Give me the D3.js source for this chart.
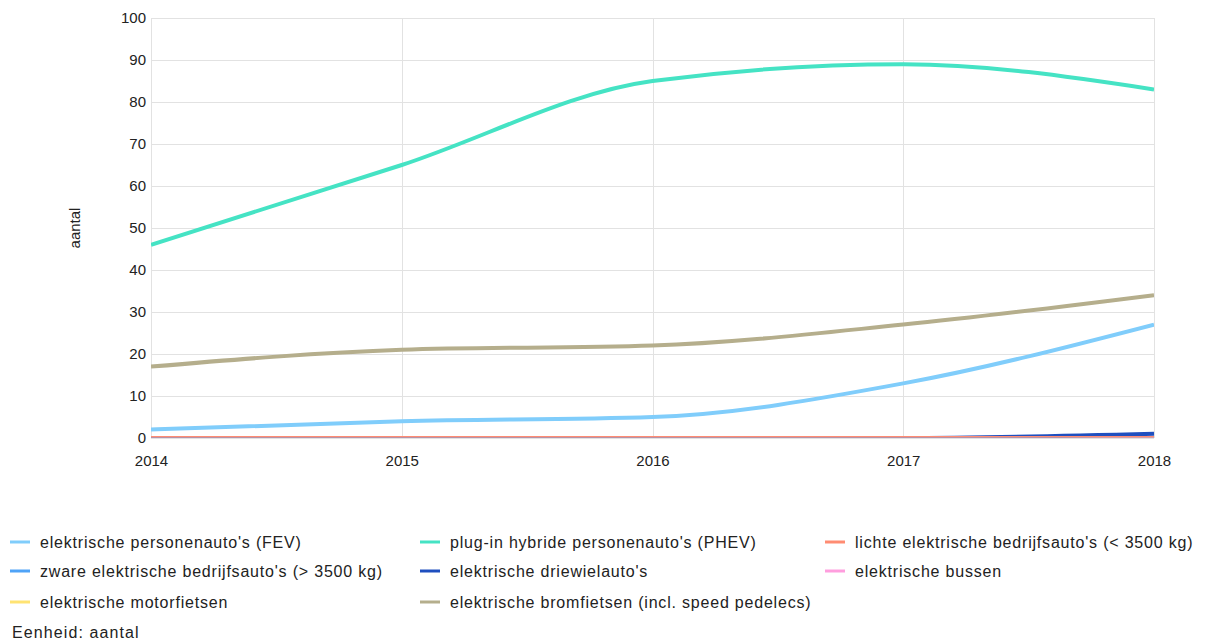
<!DOCTYPE html>
<html>
<head>
<meta charset="utf-8">
<script src="https://cdn.jsdelivr.net/npm/d3@7"></script>
<style>
  body { margin: 0; background: #fff; }
  svg { font-family: "Liberation Sans", Arial, sans-serif; }
</style>
</head>
<body>
<svg id="chart" width="1205" height="641"></svg>
<script>
var width = 1205;
var height = 641;

// jaren en waarden
var years = [2014, 2015, 2016, 2017, 2018];
var fev = [2, 4, 5, 13, 27];
var phev = [46, 65, 85, 89, 83];
var lichte = [0, 0, 0, 0, 0];
var zware = [0, 0, 0, 0, 0];
var driewiel = [0, 0, 0, 0, 1];
var bussen = [0, 0, 0, 0, 0];
var motorfietsen = [0, 0, 0, 0, 0];
var bromfietsen = [17, 21, 22, 27, 34];
var yTicks = [0, 10, 20, 30, 40, 50, 60, 70, 80, 90, 100];

var seriesNames = [
    "elektrische personenauto's (FEV)",
    "plug-in hybride personenauto's (PHEV)",
    "lichte elektrische bedrijfsauto's (< 3500 kg)",
    "zware elektrische bedrijfsauto's (> 3500 kg)",
    "elektrische driewielauto's",
    "elektrische bussen",
    "elektrische motorfietsen",
    "elektrische bromfietsen (incl. speed pedelecs)"
];
var seriesValues = [fev, phev, lichte, zware, driewiel, bussen, motorfietsen, bromfietsen];
var colors = ["#80cdfb", "#45e3c4", "#ff8c72", "#4fa3f7", "#1f4fbf", "#ff9ede", "#ffe372", "#b5ae8c"];

var margin = { left: 151, right: 51, top: 18, bottom: 203 };

var svg = d3.select("#chart");

var x = d3.scaleLinear()
    .domain([2014, 2018])
    .range([margin.left, width - margin.right]);

var y = d3.scaleLinear()
    .domain([0, 100])
    .range([height - margin.bottom, margin.top]);

// rasterlijnen
var grid = svg.append("g").attr("class", "grid");
grid.selectAll("line.h")
    .data(yTicks)
    .enter()
    .append("line")
    .attr("class", "h")
    .attr("x1", x(2014)).attr("x2", x(2018))
    .attr("y1", function (d) { return y(d) + 0.5; })
    .attr("y2", function (d) { return y(d) + 0.5; })
    .attr("stroke", "#e2e2e2");
grid.selectAll("line.v")
    .data(years)
    .enter()
    .append("line")
    .attr("class", "v")
    .attr("y1", y(0)).attr("y2", y(100))
    .attr("x1", function (d) { return Math.round(x(d)) + 0.5; })
    .attr("x2", function (d) { return Math.round(x(d)) + 0.5; })
    .attr("stroke", "#e2e2e2");

// assen
var yAxis = svg.append("g")
    .attr("transform", "translate(" + (x(2014) - 3) + ",0)")
    .call(d3.axisLeft(y).tickValues(yTicks).tickSize(0).tickPadding(2));
yAxis.select(".domain").remove();
yAxis.selectAll("text")
    .style("font-size", "15px")
    .style("fill", "#222");

var xAxis = svg.append("g")
    .attr("transform", "translate(0," + (y(0) + 14) + ")")
    .call(d3.axisBottom(x).tickValues(years).tickFormat(d3.format("d")).tickSize(0));
xAxis.select(".domain").remove();
xAxis.selectAll("text")
    .style("font-size", "15px")
    .style("fill", "#222");

svg.append("text")
    .attr("transform", "translate(80," + (y(50)) + ") rotate(-90)")
    .attr("text-anchor", "middle")
    .style("font-size", "15px")
    .style("fill", "#222")
    .text("aantal");

// lijnen, afgekapt op het plotvlak
svg.append("clipPath")
    .attr("id", "plotclip")
    .append("rect")
    .attr("x", x(2014))
    .attr("y", 0)
    .attr("width", x(2018) - x(2014))
    .attr("height", y(0) - 0.5);

var line = d3.line()
    .x(function (d, i) { return x(years[i]); })
    .y(function (d) { return y(d); })
    .curve(d3.curveMonotoneX);

// eerste reeks bovenop: in omgekeerde volgorde tekenen
var order = d3.range(seriesValues.length).reverse();
var lines = svg.append("g")
    .attr("class", "lines")
    .attr("clip-path", "url(#plotclip)");
lines.selectAll("path")
    .data(order)
    .enter()
    .append("path")
    .attr("d", function (k) { return line(seriesValues[k]); })
    .attr("fill", "none")
    .attr("stroke", function (k) { return colors[k]; })
    .attr("stroke-width", 4);

// legenda
var colX = [10, 420, 825];
var rowY = [542, 571, 602];
var legend = svg.append("g").attr("class", "legend");
var item = legend.selectAll("g")
    .data(seriesNames)
    .enter()
    .append("g")
    .attr("transform", function (d, i) {
        return "translate(" + colX[i % 3] + "," + rowY[Math.floor(i / 3)] + ")";
    });
item.append("line")
    .attr("x1", 0).attr("x2", 20)
    .attr("stroke", function (d, i) { return colors[i]; })
    .attr("stroke-width", 3);
item.append("text")
    .attr("x", 30)
    .attr("dy", "0.35em")
    .style("font-size", "16px")
    .style("letter-spacing", "0.8px")
    .style("fill", "#222")
    .text(function (d) { return d; });

svg.append("text")
    .attr("x", 12)
    .attr("y", 632)
    .attr("dy", "0.35em")
    .style("font-size", "16px")
    .style("letter-spacing", "1.1px")
    .style("fill", "#222")
    .text("Eenheid: aantal");
</script>
</body>
</html>
